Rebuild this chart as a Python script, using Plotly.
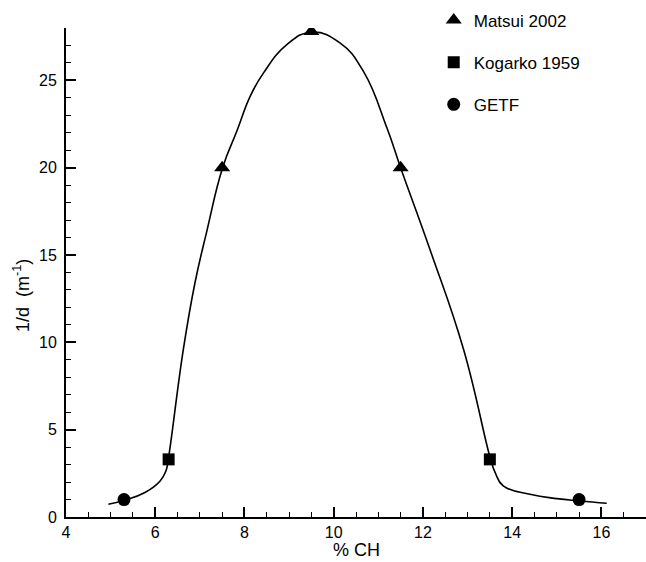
import plotly.graph_objects as go

# Fitted curve
curve_x = [4.95, 5.31, 5.77, 6.11, 6.24, 6.29, 6.63, 6.89, 7.15, 7.51, 7.83, 8.13,
           8.42, 8.95, 9.51, 10.14, 10.67, 11.19, 11.50, 12.16, 12.91, 13.52, 13.62,
           13.80, 14.40, 15.00, 15.52, 16.12]
curve_y = [0.73, 0.96, 1.40, 2.06, 2.64, 3.27, 9.6, 13.4, 16.3, 20.0, 22.1, 24.1,
           25.4, 27.05, 27.76, 27.15, 25.5, 22.3, 20.0, 15.3, 9.6, 3.27, 2.54,
           1.78, 1.30, 1.05, 0.92, 0.79]

# Data series
matsui_x = [7.5, 9.5, 11.5]
matsui_y = [20.0, 27.8, 20.0]
kogarko_x = [6.3, 13.5]
kogarko_y = [3.3, 3.3]
getf_x = [5.3, 15.5]
getf_y = [1.0, 1.0]

x_tickvals = [4, 6, 8, 10, 12, 14, 16]
y_tickvals = [0, 5, 10, 15, 20, 25]

FONT = "Liberation Sans, Arial, Helvetica, sans-serif"

fig = go.Figure()
fig.add_trace(go.Scatter(x=curve_x, y=curve_y, mode="lines",
                         line=dict(color="black", width=1.6, shape="spline", smoothing=1.3),
                         showlegend=False, hoverinfo="skip"))
fig.add_trace(go.Scatter(x=matsui_x, y=matsui_y, mode="markers", name="Matsui 2002",
                         legendgroup="a",
                         marker=dict(symbol="triangle-up", size=14, color="black")))
fig.add_trace(go.Scatter(x=kogarko_x, y=kogarko_y, mode="markers", name="Kogarko 1959",
                         legendgroup="b",
                         marker=dict(symbol="square", size=12, color="black")))
fig.add_trace(go.Scatter(x=getf_x, y=getf_y, mode="markers", name="GETF",
                         legendgroup="c",
                         marker=dict(symbol="circle", size=13, color="black")))

fig.update_layout(
    width=646, height=562,
    margin=dict(l=66, r=0, t=28, b=45),
    paper_bgcolor="white", plot_bgcolor="white",
    font=dict(family=FONT, size=16, color="black"),
    legend=dict(x=0.634, y=1.052, xanchor="left", yanchor="top",
                bgcolor="rgba(0,0,0,0)", font=dict(size=17),
                traceorder="grouped", tracegroupgap=17),
    xaxis=dict(range=[4, 17], tickvals=x_tickvals, showgrid=False, zeroline=False,
               showline=True, linecolor="black", linewidth=2, automargin=False,
               ticks="inside", ticklen=10, tickwidth=2, tickcolor="black",
               minor=dict(dtick=0.5, ticks="inside", ticklen=5, tickwidth=1, tickcolor="black"),
               tickfont=dict(size=16)),
    yaxis=dict(range=[0, 28], tickvals=y_tickvals, showgrid=False, zeroline=False,
               showline=True, linecolor="black", linewidth=2, automargin=False,
               ticks="inside", ticklen=10, tickwidth=2, tickcolor="black",
               minor=dict(dtick=1, ticks="inside", ticklen=5, tickwidth=1, tickcolor="black"),
               tickfont=dict(size=16), ticklabelstandoff=4),
    annotations=[
        dict(text="% CH", xref="paper", yref="paper", x=0.5, y=-0.0675,
             xanchor="center", yanchor="middle", showarrow=False, font=dict(size=18)),
        dict(text="1/d  (m<sup>-1</sup>)", xref="paper", yref="paper", x=-0.0759, y=0.454,
             xanchor="center", yanchor="middle", textangle=-90, showarrow=False,
             font=dict(size=18)),
    ],
)

fig.write_html("out.html", config={"displayModeBar": False},
               post_script="document.body.style.margin='0';document.body.style.padding='0';")
